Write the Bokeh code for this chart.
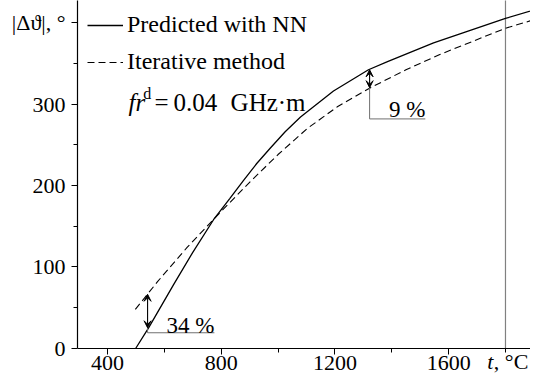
from bokeh.plotting import figure
from bokeh.models import FixedTicker, Label, Arrow, VeeHead, Legend, LegendItem
from bokeh.embed import file_html
from bokeh.resources import INLINE

# ---- data ----
t_nn = [499, 544, 632, 700, 773, 830, 878, 925, 973, 1025, 1079, 1195, 1318, 1385, 1547, 1800, 1916]
d_nn = [0, 25, 78, 118, 158, 184, 206, 227, 246, 266, 284, 316, 342, 352, 375, 405, 417]

t_it = [498, 576, 680, 780, 903, 1000, 1103, 1210, 1325, 1450, 1571, 1800, 1916]
d_it = [48, 82, 124, 161, 205, 238, 270, 297, 320, 342, 361, 393, 405]

x_ticks = [400, 800, 1200, 1600]
x_minor = [600, 1000, 1400, 1800]
y_ticks = [0, 100, 200, 300, 400]
y_minor = [50, 150, 250, 350]
y_label_text = "|Δϑ|, °"
x_label_italic = "t"
x_label_rest = ", °C"
series_names = ["Predicted with NN", "Iterative method"]
t_marker = 1800

# annotations: arrow between curves + leader line + percentage
ann34_t = 541
ann34_lo, ann34_hi, ann34_leader, ann34_end = 25.4, 66.5, 19.3, 776
ann9_t = 1322
ann9_lo, ann9_hi, ann9_leader, ann9_end = 320, 342, 281.7, 1518
ann_texts = ["34 %", "9 %"]
ann_text_lift = [9.5, 11]

SERIF = "Liberation Serif"
Y_TOP = 427

p = figure(width=530, height=381, x_range=(294.5, 1888), y_range=(-40.5, Y_TOP),
           output_backend="svg", toolbar_location=None,
           min_border_left=77, min_border_right=0, min_border_top=0,
           min_border_bottom=0)
p.xgrid.visible = False
p.ygrid.visible = False
p.outline_line_color = None
p.background_fill_color = "white"

for ax in (p.xaxis[0], p.yaxis[0]):
    ax.axis_line_color = "black"
    ax.axis_line_width = 1.2
    ax.major_tick_in = 0
    ax.major_tick_out = 6
    ax.minor_tick_in = 0
    ax.minor_tick_out = 4
    ax.major_tick_line_color = "black"
    ax.minor_tick_line_color = "black"
    ax.major_label_text_font = SERIF
    ax.major_label_text_font_size = "22px"
    ax.major_label_text_color = "black"
p.xaxis.major_label_standoff = 2
p.yaxis.major_label_standoff = 6
p.xaxis.fixed_location = 0
p.yaxis.bounds = (0, 500)

p.xaxis.ticker = FixedTicker(ticks=x_ticks, minor_ticks=x_minor)
p.yaxis.ticker = FixedTicker(ticks=y_ticks, minor_ticks=y_minor)
p.yaxis.major_label_overrides = {400: y_label_text}

# vertical marker at 1800 °C, from the axis up
p.segment(x0=[t_marker], y0=[0], x1=[t_marker], y1=[Y_TOP + 10],
          line_color="#808080", line_width=1.2)

r_nn = p.line(t_nn, d_nn, line_color="black", line_width=1.3)
r_it = p.line(t_it, d_it, line_color="black", line_width=1.1, line_dash="7 4")

legend = Legend(items=[LegendItem(label=series_names[0], renderers=[r_nn]),
                       LegendItem(label=series_names[1], renderers=[r_it])],
                location=(10, 306), margin=0, padding=0, spacing=10,
                glyph_width=36, glyph_height=20, label_standoff=4,
                label_text_font=SERIF, label_text_font_size="24px",
                label_text_color="black", border_line_alpha=0,
                background_fill_alpha=0)
p.add_layout(legend)

def lab(x, y, text, size="25px", style="normal", align="left"):
    p.add_layout(Label(x=x, y=y, text=text, text_font=SERIF, text_font_size=size,
                       text_font_style=style, text_align=align,
                       text_baseline="alphabetic", text_color="black"))

# fr^d = 0.04 GHz·m
lab(474, 302.4, "fr", style="italic")
lab(526, 312.9, "d", size="16px")
lab(565, 302.4, "=")
lab(632, 302.4, "0.04")
lab(833, 302.4, "GHz·m")

# arrows + leaders
for (t0, lo, hi, lead, end), txt, lift in zip(
        [(ann34_t, ann34_lo, ann34_hi, ann34_leader, ann34_end),
         (ann9_t, ann9_lo, ann9_hi, ann9_leader, ann9_end)], ann_texts, ann_text_lift):
    p.add_layout(Arrow(start=VeeHead(size=7, line_width=1, fill_color="black"),
                       end=VeeHead(size=7, line_width=1, fill_color="black"),
                       x_start=t0, y_start=lo, x_end=t0, y_end=hi,
                       line_width=1.1, line_color="black"))
    p.line([t0, t0, end], [lo, lead, lead], line_color="#707070", line_width=1)
    lab(end, lead + lift, txt, size="23px", align="right")

# x-axis title "t, °C"
lab(1736, -15.9, x_label_italic, size="22px", style="italic")
lab(1759, -15.9, x_label_rest, size="22px")

open("out.html", "w").write(file_html(p, INLINE))
